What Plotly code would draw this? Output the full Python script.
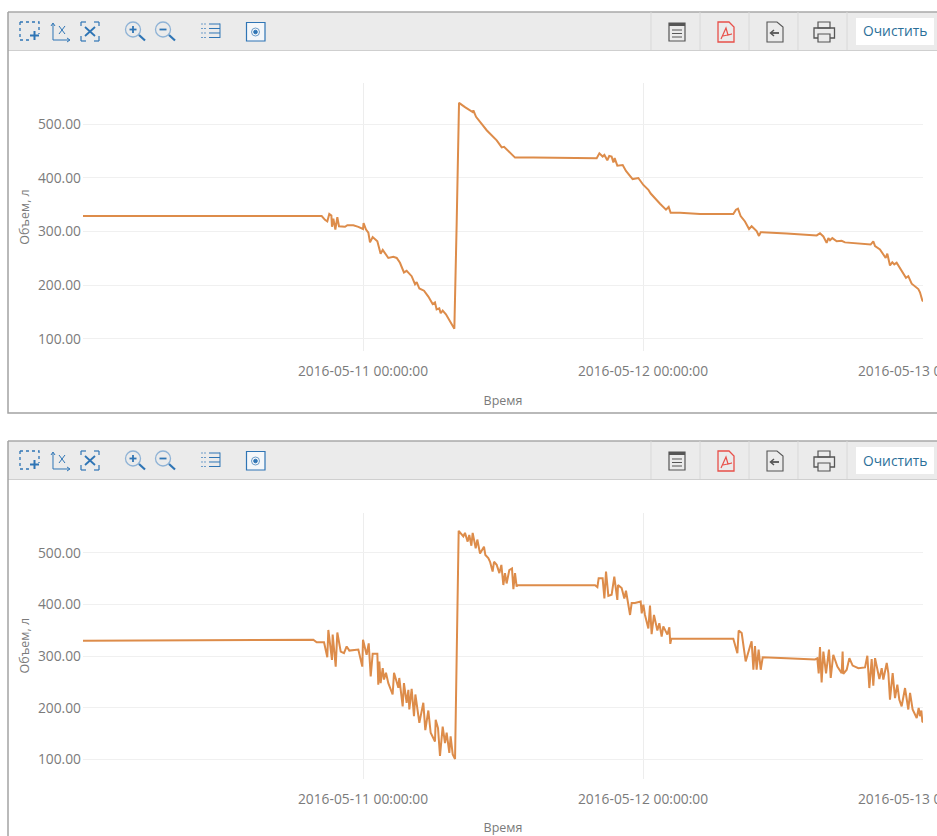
import pandas as pd
import plotly.graph_objects as go

W, H = 937, 836
START = "2016-05-10 00:00:00"
END = "2016-05-13 00:00:00"
TICK_DATES = ["2016-05-11 00:00:00", "2016-05-12 00:00:00", "2016-05-13 00:00:00"]
Y_TICKS = [100, 200, 300, 400, 500]
X_TITLE = "Время"
Y_TITLE = "Объем, л"
CLEAR_LABEL = "Очистить"

top_hours = [0, 19, 20.46, 20.74, 20.94, 21.11, 21.29, 21.34, 21.46, 21.63, 21.8, 21.94, 22.17, 22.46, 22.66, 23.17, 23.6, 24.0,
             24.05, 24.26, 24.46, 24.6, 24.83, 25.23, 25.51, 25.69, 26.17, 26.6, 26.89, 27.17, 27.51, 27.74, 28.17, 28.46,
             28.6, 28.83, 29.23, 29.6, 29.97, 30.17, 30.31, 30.54, 30.66, 30.83, 31.11, 31.46, 31.83, 32.03, 32.23, 32.74,
             33.17, 33.4, 33.46, 33.69, 34.17, 34.6, 35.46, 35.89, 36.09, 37.03, 38.6, 42.6, 44.03, 44.26, 44.54, 44.69,
             44.94, 45.11, 45.31, 45.46, 45.57, 45.8, 46.26, 46.54, 47.11, 47.6, 48.03, 48.46, 48.66, 49.46, 49.97, 50.2,
             50.37, 51.17, 52.89, 55.74, 55.97, 56.14, 56.37, 56.74, 57.09, 57.31, 57.74, 57.94, 58.09, 60.31, 62.89, 63.17,
             63.46, 63.74, 63.89, 64.03, 64.23, 64.6, 65.03, 65.31, 67.17, 67.51, 67.74, 67.89, 68.31, 68.8, 68.94, 69.17,
             69.37, 69.54, 69.74, 70.17, 70.54, 70.74, 71.03, 71.6, 71.74, 71.94, 72]
top_volume = [329, 329, 329, 322, 319, 333, 330, 309, 324, 304, 327, 310, 309, 309, 312, 312, 309, 305,
              316, 304, 298, 280, 290, 282, 259, 266, 251, 253, 251, 242, 224, 227, 217, 202,
              206, 194, 190, 179, 165, 168, 155, 157, 148, 153, 146, 132, 119, 316, 540, 532,
              527, 523, 526, 514, 501, 489, 470, 457, 458, 438, 438, 437, 437, 446, 440, 443,
              433, 441, 440, 429, 437, 423, 424, 413, 398, 400, 387, 378, 371, 352, 341, 346,
              335, 335, 333, 333, 341, 343, 329, 319, 305, 310, 301, 292, 299, 296.5, 293, 297,
              291, 279, 288, 284, 288, 282, 283, 280, 277, 276, 282, 273, 267, 251, 259, 237,
              243, 239, 242, 227, 214, 217, 203, 193, 187, 172, 170]

bottom_hours = [0, 18.6, 19.74, 20.03, 20.66, 20.94, 21.03, 21.34, 21.4, 21.66, 21.8, 22.09, 22.37, 22.6, 22.83, 23.6, 23.94, 24.0,
                24.31, 24.49, 24.66, 24.83, 25.23, 25.31, 25.4, 25.51, 25.69, 25.8, 25.97, 26.17, 26.54, 26.66, 27.03, 27.11,
                27.4, 27.51, 27.74, 27.89, 27.97, 28.17, 28.37, 28.49, 28.83, 29.17, 29.34, 29.6, 29.8, 30.17, 30.23, 30.43,
                30.6, 30.83, 31.03, 31.17, 31.4, 31.51, 31.69, 31.89, 32.03, 32.2, 32.6, 32.74, 32.97, 33.11, 33.29, 33.4,
                33.66, 33.8, 34.03, 34.2, 34.37, 34.49, 34.74, 34.89, 35.11, 35.23, 35.46, 35.69, 35.86, 36.03, 36.17, 36.31,
                36.54, 36.77, 36.89, 37.03, 37.17, 37.26, 39.17, 42.6, 43.89, 44.09, 44.2, 44.54, 44.69, 44.83, 45.03, 45.31,
                45.54, 45.8, 45.86, 46.17, 46.4, 46.54, 46.66, 46.89, 47.03, 47.31, 47.8, 47.89, 48.03, 48.17, 48.46, 48.6,
                48.74, 48.94, 49.23, 49.4, 49.6, 49.74, 50.09, 50.26, 50.34, 50.43, 54.03, 55.74, 56.09, 56.2, 56.46, 56.8,
                57.17, 57.31, 57.46, 57.6, 57.74, 57.91, 58.09, 58.26, 60.31, 62.74, 62.94, 63.06, 63.17, 63.31, 63.46, 63.69,
                63.94, 64.09, 64.31, 64.66, 65.03, 65.11, 65.17, 65.46, 65.69, 65.97, 66.46, 67.03, 67.23, 67.4, 67.6, 67.74,
                67.89, 68.26, 68.46, 68.6, 68.89, 69.03, 69.17, 69.4, 69.6, 69.8, 69.97, 70.17, 70.46, 70.74, 70.89, 71.11,
                71.46, 71.63, 71.74, 71.86, 71.94, 72]
bottom_volume = [330, 331, 332, 327, 327, 298, 351, 293, 342, 280, 346, 309, 306, 319, 311, 313, 280, 332,
                 303, 325, 261, 305, 305, 245, 290, 248, 277, 255, 268, 248, 226, 268, 239, 258,
                 203, 248, 210, 235, 197, 237, 184, 226, 171, 210, 157, 195, 152, 135, 177, 161,
                 107, 164, 132, 152, 113, 145, 110, 101, 306, 543, 532, 539, 522, 535, 514, 539,
                 509, 526, 499, 506, 512, 496, 490, 483, 464, 483, 477, 461, 477, 438, 461, 441,
                 467, 470, 430, 461, 435, 438, 438, 437, 437.5, 434, 451, 451, 412, 464, 417, 419,
                 454, 409, 438, 432, 412, 427, 409, 380, 403, 403, 406, 383, 400, 380, 354, 398,
                 343, 380, 350, 364, 338, 358, 342, 356, 324, 334.5, 334, 334, 306, 350, 345, 290,
                 319, 329, 274, 320, 274, 313, 274, 298, 296, 294, 296, 267, 318, 249.5, 309, 267,
                 313, 258, 303, 280, 267, 309, 266, 274, 296.5, 282, 277, 278.5, 301, 238.5, 294.5, 243,
                 296.5, 256, 277, 255, 287, 267.5, 216, 267.5, 219, 245, 216, 203, 238.5, 197, 229, 197,
                 180.5, 200, 184, 195, 174, 172]


def to_time(hours):
    return [pd.Timestamp(START) + pd.Timedelta(hours=h) for h in hours]


GREY = "#7b7b7b"
LINE = "#DD8C4A"
BLUE = "#2F75B5"
DARK = "#555555"
RED = "#E8504A"
FONT = "Open Sans"


def X(x):
    return x / W


def Y(y):
    return 1 - y / H


def path(points, close=False):
    s = "M" + " L".join(f"{X(a):.5f},{Y(b):.5f}" for a, b in points)
    return s + (" Z" if close else "")


shapes = []


def poly(points, color, width=1.5, close=False, dash=None):
    line = dict(color=color, width=width)
    if dash:
        line["dash"] = dash
    shapes.append(dict(type="path", xref="paper", yref="paper", path=path(points, close), line=line, layer="above"))


def rect(x0, y0, x1, y1, fill=None, color=None, width=1):
    shapes.append(dict(type="rect", xref="paper", yref="paper", x0=X(x0), x1=X(x1), y0=Y(y0), y1=Y(y1),
                       fillcolor=fill if fill else "rgba(0,0,0,0)",
                       line=dict(color=color if color else "rgba(0,0,0,0)", width=width if color else 0), layer="above"))


def circle(cx, cy, r, color, width=1.5, fill=None):
    shapes.append(dict(type="circle", xref="paper", yref="paper", x0=X(cx - r), x1=X(cx + r), y0=Y(cy - r), y1=Y(cy + r),
                       fillcolor=fill if fill else "rgba(0,0,0,0)", line=dict(color=color, width=width), layer="above"))


def toolbar(d):
    rect(8, 12 + d, W, 50 + d, fill="#ebebeb")
    poly([(8, 12 + d), (W, 12 + d)], "#a8a8a8", 1.5)
    poly([(8, 50.5 + d), (W, 50.5 + d)], "#cfcfcf", 1)
    for sx in [651, 700, 749, 798, 847]:
        poly([(sx, 12 + d), (sx, 50 + d)], "#d8d8d8", 1)
    rect(856, 18 + d, 934, 45 + d, fill="#ffffff")
    # selection box with plus
    poly([(20, 22 + d), (39, 22 + d), (39, 34 + d)], BLUE, 1.3, dash="3px,3px")
    poly([(20, 22 + d), (20, 40 + d), (30, 40 + d)], BLUE, 1.3, dash="3px,3px")
    poly([(34.5, 31 + d), (34.5, 40 + d)], BLUE, 2)
    poly([(30, 35.5 + d), (39, 35.5 + d)], BLUE, 2)
    # axis zoom
    poly([(53, 24 + d), (53, 40 + d), (69, 40 + d)], BLUE, 1)
    poly([(51, 26 + d), (53, 23 + d), (55, 26 + d)], BLUE, 1)
    poly([(67, 38 + d), (70, 40 + d), (67, 42 + d)], BLUE, 1)
    poly([(59, 26 + d), (65, 34 + d)], BLUE, 1)
    poly([(65, 26 + d), (59, 34 + d)], BLUE, 1)
    # fit
    for a, b, c, e in [(81, 26, 81, 22), (81, 22, 86, 22), (94, 22, 99, 22), (99, 22, 99, 26),
                       (81, 36, 81, 41), (81, 41, 86, 41), (94, 41, 99, 41), (99, 41, 99, 36)]:
        poly([(a, b + d), (c, e + d)], BLUE, 1.2)
    poly([(85, 27 + d), (95, 36 + d)], BLUE, 1.8)
    poly([(95, 27 + d), (85, 36 + d)], BLUE, 1.8)
    # zoom in/out
    for cx in [133, 163]:
        circle(cx, 29.5 + d, 7.5, "#8fb3d6", 1.3)
        poly([(cx + 6, 35 + d), (cx + 12, 40.5 + d)], BLUE, 2.2)
        poly([(cx - 3.5, 29.5 + d), (cx + 3.5, 29.5 + d)], BLUE, 1.8)
    poly([(133, 26 + d), (133, 33 + d)], BLUE, 1.8)
    # list
    for yy in [24, 28.5, 33, 37.5]:
        poly([(201, yy + d), (206, yy + d)], "#6d9cc9", 1, dash="2px,1px")
        poly([(209, yy + d), (220, yy + d)], BLUE, 1)
    poly([(220, 23.5 + d), (220, 38 + d)], BLUE, 1)
    # camera
    rect(246.5, 22.5 + d, 265, 41 + d, fill="#f4f7fa", color=BLUE, width=1.2)
    circle(255.5, 32 + d, 4, "#6d9cc9", 1)
    circle(255.5, 32 + d, 1.8, BLUE, 1, fill=BLUE)
    # right icons
    rect(669, 23 + d, 685, 41 + d, color=DARK, width=1.2)
    rect(669, 23 + d, 685, 26 + d, fill=DARK)
    for yy in [30, 33.5, 37]:
        poly([(672, yy + d), (682, yy + d)], DARK, 1)
    poly([(718, 22 + d), (729, 22 + d), (734, 27 + d), (734, 42 + d), (718, 42 + d)], RED, 1.3, close=True)
    poly([(721, 39 + d), (726, 28 + d), (728, 35 + d), (732, 34 + d), (723, 36 + d)], RED, 1.2)
    poly([(767, 22 + d), (777, 22 + d), (783, 27 + d), (783, 42 + d), (767, 42 + d)], DARK, 1.1, close=True)
    poly([(771, 33 + d), (779, 33 + d)], DARK, 1.8)
    poly([(774, 30 + d), (770.5, 33 + d), (774, 36 + d)], DARK, 1.5)
    rect(818, 22 + d, 830, 28 + d, color=DARK, width=1.2)
    rect(814, 28 + d, 834.5, 38 + d, color=DARK, width=1.3)
    rect(818, 34 + d, 830, 42 + d, fill="#ebebeb", color=DARK, width=1.2)


toolbar(0)
toolbar(429)
poly([(8, 12), (8, 413), (W, 413)], "#a3a3a3", 1.5)
poly([(8, 441), (8, H)], "#a3a3a3", 1.5)

fig = go.Figure()
fig.add_trace(go.Scatter(x=to_time(top_hours), y=top_volume, mode="lines", line=dict(color=LINE, width=2), xaxis="x", yaxis="y"))
fig.add_trace(go.Scatter(x=to_time(bottom_hours), y=bottom_volume, mode="lines", line=dict(color=LINE, width=2), xaxis="x2", yaxis="y2"))

tickfont = dict(family=FONT, size=13.8, color=GREY)
titlefont = dict(family=FONT, size=12.5, color=GREY)
dom_x = [83 / W, 923 / W]


def xaxis(anchor, standoff):
    return dict(domain=dom_x, range=[START, END], anchor=anchor, type="date", tickmode="array", tickvals=TICK_DATES,
                ticktext=TICK_DATES, tickfont=tickfont, ticks="", showgrid=True, gridcolor="#ededed", gridwidth=1,
                zeroline=False, showline=False, ticklabeloverflow="allow", ticklabelstandoff=10, automargin=False,
                title=dict(text=X_TITLE, font=titlefont, standoff=standoff))


def yaxis(anchor, dom, rng):
    return dict(domain=dom, range=rng, anchor=anchor, tickmode="array", tickvals=Y_TICKS, tickformat=".2f",
                tickfont=tickfont, ticks="", showgrid=True, gridcolor="#f0f0f0", gridwidth=1, zeroline=False,
                showline=False, ticklabelstandoff=1, automargin=False, title=dict(text=Y_TITLE, font=titlefont, standoff=5))


fig.update_layout(
    width=W, height=H, margin=dict(l=0, r=0, t=0, b=0), paper_bgcolor="white", plot_bgcolor="white",
    showlegend=False, font=dict(family=FONT),
    xaxis=xaxis("y", 17), xaxis2=xaxis("y2", 18),
    yaxis=yaxis("x", [1 - 351 / H, 1 - 83 / H], [77.6, 577]),
    yaxis2=yaxis("x2", [1 - 778.7 / H, 1 - 512.7 / H], [63, 578]),
    shapes=shapes,
    annotations=[dict(text=CLEAR_LABEL, x=X(895), y=Y(31 + d), xref="paper", yref="paper", showarrow=False,
                      xanchor="center", yanchor="middle",
                      font=dict(family=FONT, size=13.8, color="#2B6F99")) for d in (0, 429)],
)
fig.write_html("out.html", config=dict(displayModeBar=False),
               post_script="document.body.style.margin='0';document.body.style.overflow='hidden';")
